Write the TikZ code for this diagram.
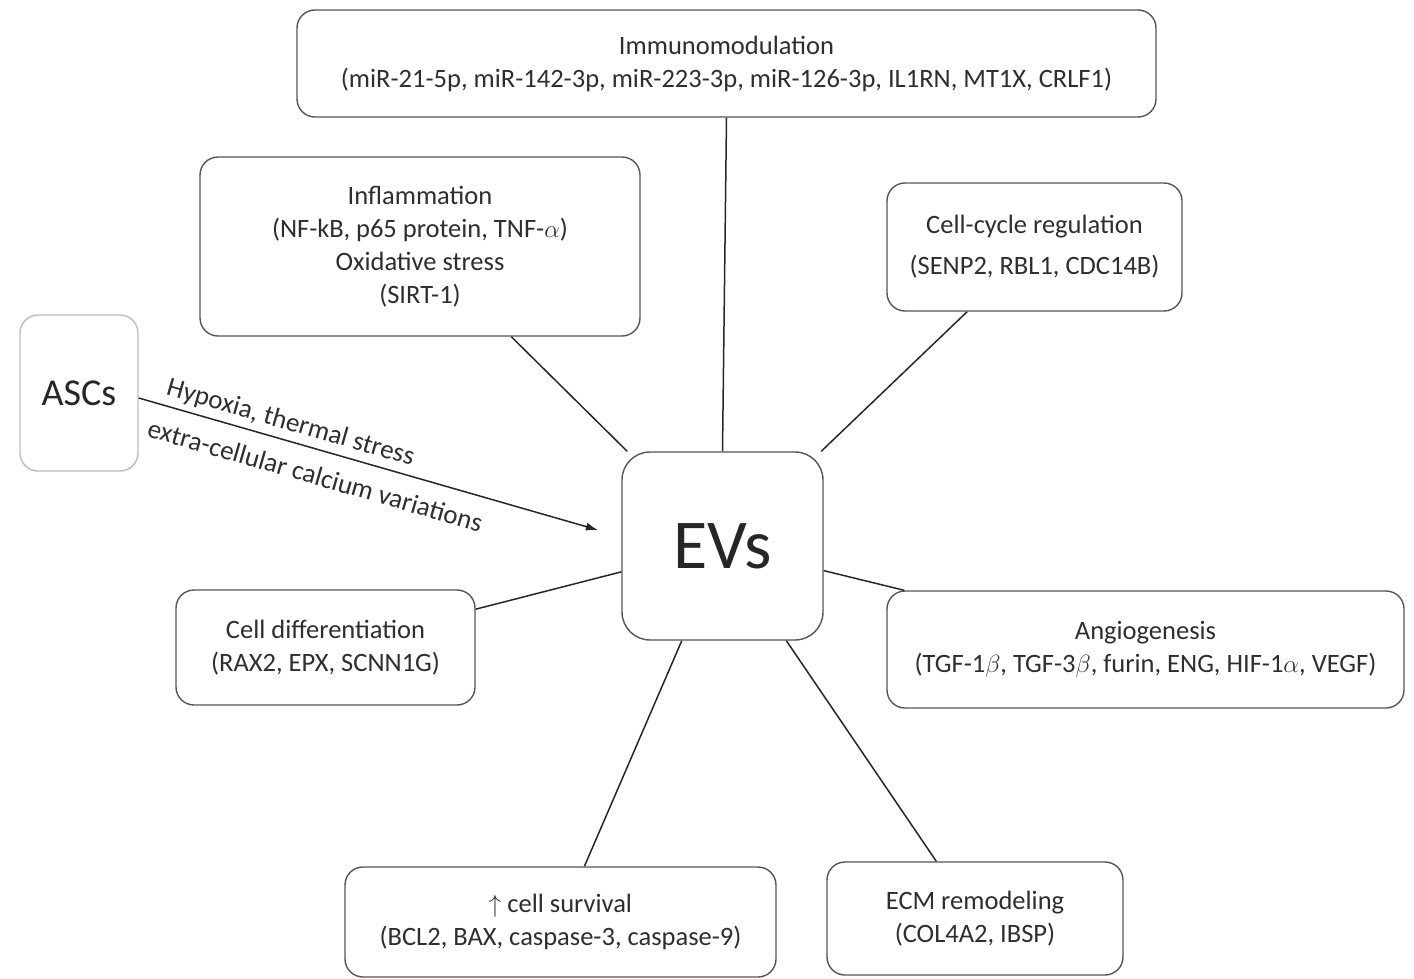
\documentclass[tikz,border=0pt]{standalone}
\usepackage{fontspec}
\setmainfont{Carlito}
\usepackage{tikz}
\usetikzlibrary{arrows.meta, positioning, calc}
\definecolor{inkdark}{HTML}{262626}
\definecolor{edgegray}{HTML}{555555}
\definecolor{edgelight}{HTML}{BDBDBD}
\definecolor{textgray}{HTML}{2E2E2E}
\tikzset{
  card/.style={draw=edgegray, fill=white, rounded corners=18pt, line width=1.4pt,
               align=center, inner sep=0pt, text=textgray,
               font=\fontsize{26.5}{33}\selectfont},
  hub/.style={draw=edgegray, fill=white, rounded corners=28pt, line width=1.4pt,
              inner sep=0pt, text=inkdark, font=\fontsize{70}{80}\selectfont},
  source/.style={draw=edgelight, fill=white, rounded corners=18pt, line width=1.4pt,
                 inner sep=0pt, text=inkdark, font=\fontsize{38}{44}\selectfont},
  link/.style={line width=1.5pt, color=inkdark},
  flow/.style={-{Latex[length=12pt, width=8pt]}, line width=1.5pt, color=inkdark},
  cue/.style={font=\fontsize{27}{30}\selectfont, text=textgray, sloped},
}
\begin{document}
\begin{tikzpicture}[x=1pt, y=-1pt]
  \useasboundingbox (0,0) rectangle (1414,979);
  % hub and source
  \node[hub, minimum width=201pt, minimum height=188pt] (EVs) at (722.5,546) {EVs};
  \node[source, minimum width=118pt, minimum height=156pt] (ASCs) at (79,393) {ASCs};
  % effect cards
  \node[card, minimum width=859pt, minimum height=107pt] (immuno) at (726.5,63.5)
    {Immunomodulation\\(miR-21-5p, miR-142-3p, miR-223-3p, miR-126-3p, IL1RN, MT1X, CRLF1)};
  \node[card, minimum width=440pt, minimum height=179pt] (inflam) at (420,246.5)
    {Inflammation\\(NF-kB, p65 protein, TNF-$\alpha$)\\Oxidative stress\\(SIRT-1)};
  \node[card, minimum width=295pt, minimum height=128pt] (cycle) at (1034.5,247)
    {Cell-cycle regulation\\[8pt](SENP2, RBL1, CDC14B)};
  \node[card, minimum width=299pt, minimum height=115pt] (differ) at (325.5,647.5)
    {Cell differentiation\\(RAX2, EPX, SCNN1G)};
  \node[card, minimum width=517pt, minimum height=117pt] (angio) at (1145.5,649.5)
    {Angiogenesis\\(TGF-1$\beta$, TGF-3$\beta$, furin, ENG, HIF-1$\alpha$, VEGF)};
  \node[card, minimum width=431pt, minimum height=110pt] (survival) at (560.5,922)
    {$\uparrow$ cell survival\\(BCL2, BAX, caspase-3, caspase-9)};
  \node[card, minimum width=296pt, minimum height=113pt] (ecm) at (975,918.5)
    {ECM remodeling\\(COL4A2, IBSP)};
  % spokes
  \foreach \n in {inflam, cycle, differ, angio, survival, ecm}
    \draw[link] (\n) -- (EVs);
  \draw[link] (immuno.south) -- (EVs.north);
  % stimulus arrow
  \coordinate (stimtip) at (598,530);
  \draw[flow] ([yshift=-5pt]ASCs.east) -- (stimtip)
    node[cue, above=2pt, pos=0.32] {Hypoxia, thermal stress}
    node[cue, below=12pt, pos=0.40] {extra-cellular calcium variations};
\end{tikzpicture}
\end{document}
